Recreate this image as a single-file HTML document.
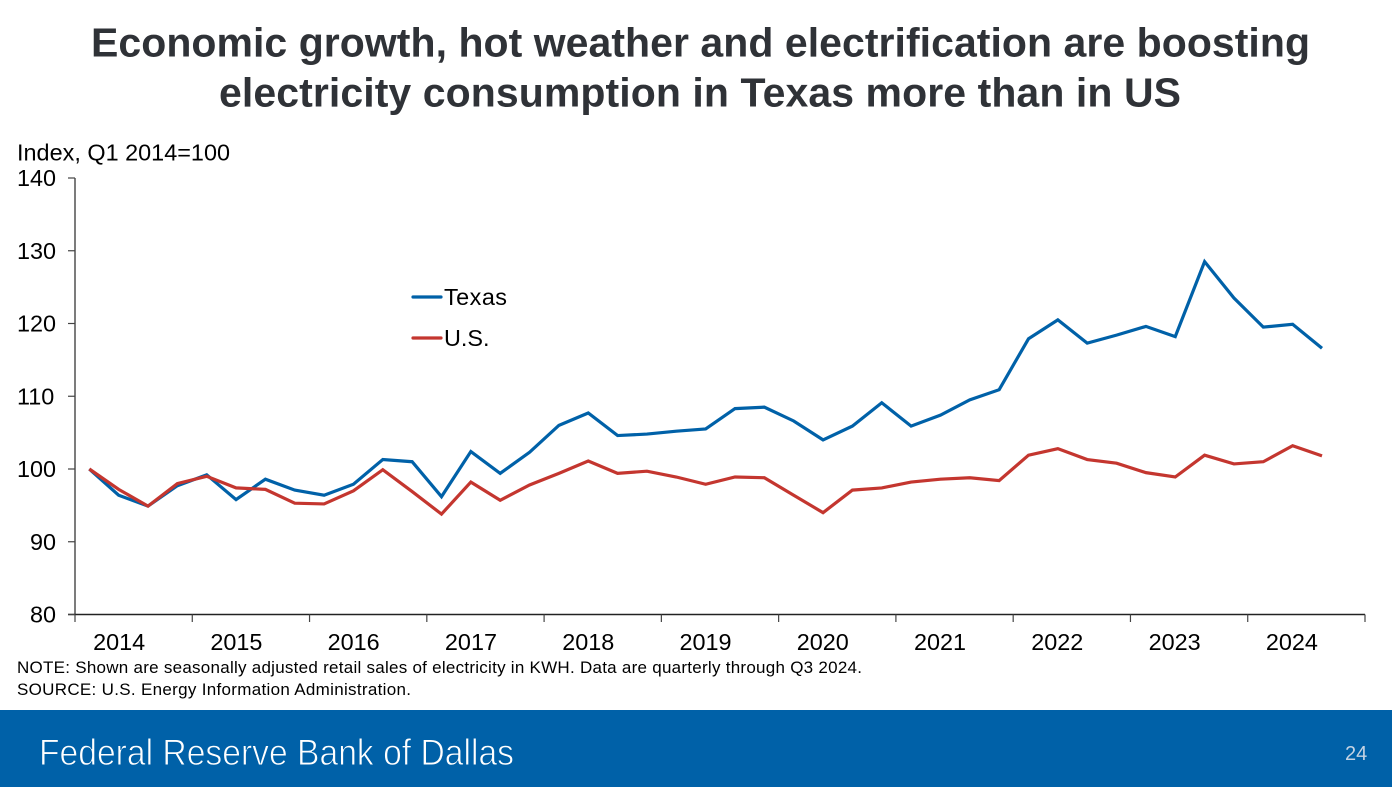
<!DOCTYPE html>
<html lang="en">
<head>
<meta charset="utf-8">
<title>Electricity consumption in Texas and US</title>
<style>
html,body{margin:0;padding:0;background:#fff;}
body{width:1392px;height:787px;overflow:hidden;position:relative;font-family:"Liberation Sans",Arial,sans-serif;}
svg{position:absolute;left:0;top:0;display:block;}
text{font-family:"Liberation Sans",Arial,sans-serif;}
</style>
</head>
<body>
<svg id="chart" width="1392" height="787" viewBox="0 0 1392 787">
  <text x="700.5" y="56.5" text-anchor="middle" font-size="41" font-weight="700" fill="#2f3237" textLength="1219" lengthAdjust="spacing">Economic growth, hot weather and electrification are boosting</text>
  <text x="700" y="106.5" text-anchor="middle" font-size="41" font-weight="700" fill="#2f3237" textLength="962" lengthAdjust="spacing">electricity consumption in Texas more than in US</text>
  <text x="17" y="160.5" font-size="23.4" fill="#000" textLength="213" lengthAdjust="spacing">Index, Q1 2014=100</text>
  <g id="axes"></g>
  <g id="series"></g>
  <line x1="413" y1="297" x2="441" y2="297" stroke="#0061a8" stroke-width="3.2" stroke-linecap="round"/>
  <text x="444" y="305" font-size="23.4" fill="#000" textLength="63" lengthAdjust="spacing">Texas</text>
  <line x1="413" y1="338" x2="441" y2="338" stroke="#c4362f" stroke-width="3.2" stroke-linecap="round"/>
  <text x="444" y="346" font-size="23.4" fill="#000">U.S.</text>
  <text x="17" y="673" font-size="17" fill="#000" textLength="845" lengthAdjust="spacing">NOTE: Shown are seasonally adjusted retail sales of electricity in KWH. Data are quarterly through Q3 2024.</text>
  <text x="17" y="695" font-size="17" fill="#000" textLength="394" lengthAdjust="spacing">SOURCE: U.S. Energy Information Administration.</text>
  <rect x="0" y="710" width="1392" height="77" fill="#0061a8"/>
  <text x="39" y="765" font-size="37.5" fill="#ffffff" stroke="#0061a8" stroke-width="0.9" textLength="475" lengthAdjust="spacingAndGlyphs">Federal Reserve Bank of Dallas</text>
  <text x="1345" y="760" font-size="20" fill="#c4d3e3">24</text>
</svg>
<script>
const years = ['2014','2015','2016','2017','2018','2019','2020','2021','2022','2023','2024'];
const yTicks = [80,90,100,110,120,130,140];
const texasValues = [100,96.4,94.9,97.7,99.2,95.8,98.6,97.1,96.4,97.9,101.3,101.0,96.2,102.4,99.4,102.3,106.0,107.7,104.6,104.8,105.2,105.5,108.3,108.5,106.6,104.0,105.9,109.1,105.9,107.4,109.5,110.9,117.9,120.5,117.3,118.4,119.6,118.2,128.5,123.5,119.5,119.9,116.6];
const usValues = [100,97.2,94.9,98.0,99.0,97.4,97.2,95.3,95.2,97.0,99.9,96.9,93.8,98.2,95.7,97.8,99.4,101.1,99.4,99.7,98.9,97.9,98.9,98.8,96.4,94.0,97.1,97.4,98.2,98.6,98.8,98.4,101.9,102.8,101.3,100.8,99.5,98.9,101.9,100.7,101.0,103.2,101.8];

const NS = 'http://www.w3.org/2000/svg';
const plotLeft = 75, plotRight = 1365, plotTop = 178, plotBottom = 614.5;
const yMin = 80, yMax = 140;
const firstPointX = 89.3, lastPointX = 1322;

function xScale(i){
  return firstPointX + i * (lastPointX - firstPointX) / (texasValues.length - 1);
}
function yScale(v){
  return plotBottom - (v - yMin) * (plotBottom - plotTop) / (yMax - yMin);
}
function yearEdge(i){
  return plotLeft + i * (plotRight - plotLeft) / years.length;
}
function make(tag, parent, attrs){
  const el = document.createElementNS(NS, tag);
  for (const k in attrs) el.setAttribute(k, attrs[k]);
  parent.appendChild(el);
  return el;
}

const axes = document.getElementById('axes');
const yLine = make('line', axes, {x1:plotLeft,y1:plotTop,x2:plotLeft,y2:plotBottom,stroke:'#444','stroke-width':1.4});


const xLine = make('line', axes, {x1:plotLeft - 7,y1:plotBottom,x2:plotRight,y2:plotBottom,stroke:'#222','stroke-width':1.4});



yTicks.forEach(function(t){
  const y = yScale(t);
  const tick = make('line', axes, {x1:plotLeft - 7,y1:y,x2:plotLeft,y2:y,stroke:'#444','stroke-width':1.2});
  
  
  const label = make('text', axes, {x:t >= 100 ? 17 : 30,y:y + 8,'font-size':23.4,fill:'#000'});
  label.textContent = String(t);
  
  
});

for (let i = 0; i <= years.length; i++){
  const x = yearEdge(i);
  const tick = make('line', axes, {x1:x,y1:plotBottom,x2:x,y2:plotBottom + 7.5,stroke:'#444','stroke-width':1.2});
  
  
}
years.forEach(function(yr, i){
  const label = make('text', axes, {x:(yearEdge(i) + yearEdge(i + 1)) / 2 - 14.5,y:650,'font-size':23.4,fill:'#000','text-anchor':'middle'});
  label.textContent = yr;
  
  
});

const seriesGroup = document.getElementById('series');
function pathFor(values){
  return values.map(function(v, i){
    return (i ? 'L' : 'M') + xScale(i).toFixed(2) + ' ' + yScale(v).toFixed(2);
  }).join(' ');
}
const texasLine = make('path', seriesGroup, {d:pathFor(texasValues),fill:'none',stroke:'#0061a8','stroke-width':3.2,'stroke-linejoin':'miter'});


const usLine = make('path', seriesGroup, {d:pathFor(usValues),fill:'none',stroke:'#c4362f','stroke-width':3.2,'stroke-linejoin':'miter'});


</script>
</body>
</html>
